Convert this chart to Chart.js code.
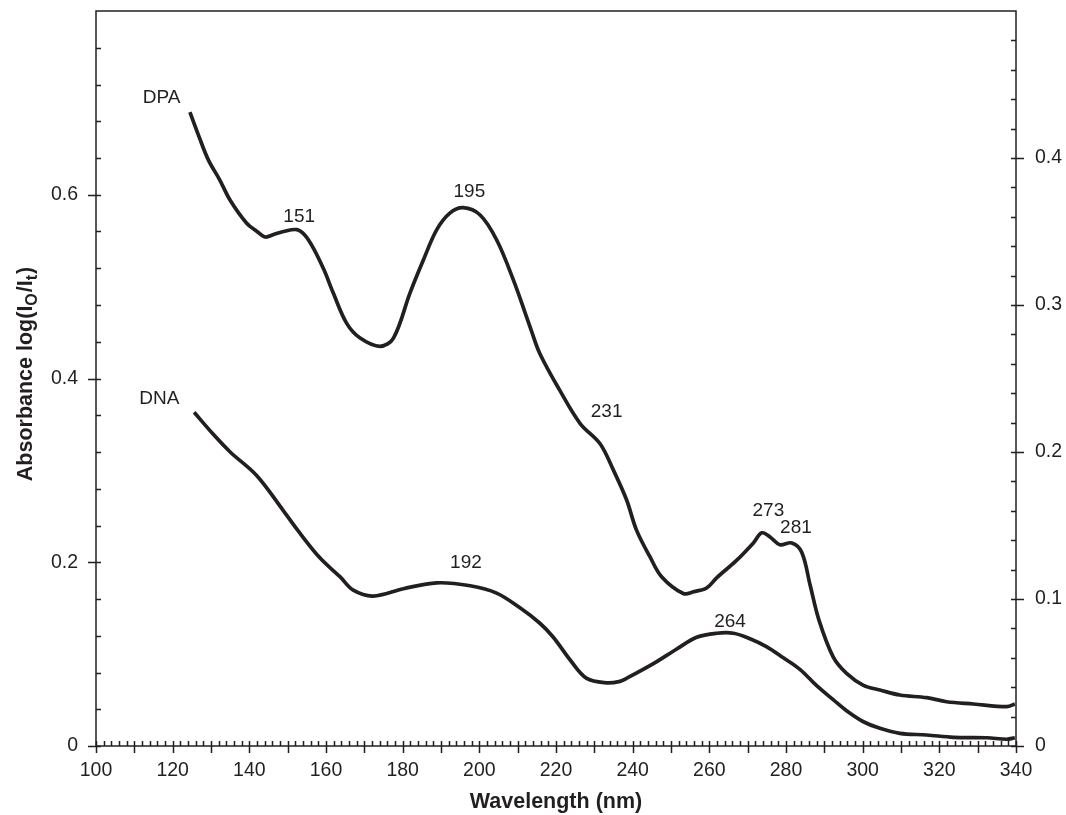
<!DOCTYPE html>
<html>
<head>
<meta charset="utf-8">
<script src="https://cdn.jsdelivr.net/npm/chart.js@4.4.1/dist/chart.umd.min.js"></script>
<style>
  body { margin: 0; background: #fff; }
  #wrap { width: 1066px; height: 815px; position: relative; }
</style>
</head>
<body>
<div id="wrap"><canvas id="spectrum"></canvas></div>
<script>
// -------------------------------- DATA --------------------------------//
// DPA spectrum, left axis
const dpaNm = [124.5, 126.9, 129.3, 132.3, 135, 139.3, 142, 144.1, 146.5, 148.9, 152.4, 154.5, 156.7, 159.5,
    161.9, 165.4, 168.9, 174.1, 177.6, 181.9, 185.4, 188.9, 192.3, 195.8, 200.2, 204.5, 208.9, 213.5,
    215.8, 221, 226.3, 231.5, 235, 238.4, 241, 244.5, 247.6, 253.2, 256, 259.3, 261.9, 267.1, 271.5,
    273.7, 276, 278.4, 281.5, 284.1, 286.3, 288.6, 292.3, 295.8, 300.2, 304.5, 309.7, 316.7, 321.9,
    328.9, 337.6, 339.7];
const dpaAbs = [0.690, 0.663, 0.638, 0.616, 0.594, 0.569, 0.560, 0.554, 0.557, 0.560, 0.562, 0.556, 0.542, 0.518,
    0.493, 0.460, 0.444, 0.435, 0.444, 0.493, 0.529, 0.562, 0.580, 0.586, 0.578, 0.551, 0.507, 0.453,
    0.427, 0.387, 0.351, 0.329, 0.300, 0.268, 0.235, 0.206, 0.184, 0.166, 0.168, 0.172, 0.183, 0.202, 0.221,
    0.232, 0.227, 0.219, 0.221, 0.211, 0.175, 0.137, 0.097, 0.079, 0.066, 0.061, 0.0555, 0.0526, 0.0482,
    0.0457, 0.0428, 0.0457];

// DNA spectrum, right axis
const dnaNm = [125.6, 130.6, 135, 141.9, 148.9, 152.4, 158.4, 163.7, 167.1, 172.3, 180.2, 188.9, 197.6, 204.5,
    210.6, 215.8, 219.3, 223.7, 228, 233.2, 236.7, 238.4, 245.4, 251.5, 256.7, 261.9, 266.3, 270.6, 275,
    279.3, 283.7, 288, 292.3, 295.8, 300.2, 304.5, 309.7, 316.7, 323.7, 332.4, 337.6, 339.7];
const dnaAbs = [0.227, 0.212, 0.200, 0.184, 0.160, 0.1475, 0.128, 0.115, 0.106, 0.102, 0.107, 0.111, 0.109, 0.104,
    0.094, 0.0835, 0.074, 0.0585, 0.046, 0.043, 0.044, 0.046, 0.056, 0.066, 0.074, 0.0767, 0.0767, 0.073, 0.0675,
    0.060, 0.052, 0.041, 0.0315, 0.024, 0.0165, 0.012, 0.0086, 0.0075, 0.0059, 0.0056, 0.0046, 0.0056];

// peak labels (wavelength, left-axis value)
const noteText = ['DPA', 'DNA', '151', '195', '231', '273', '281', '192', '264'];
const noteNm   = [117.1, 116.5, 153.0, 197.4, 233.2, 275.4, 282.6, 196.5, 265.4];
const noteAbs  = [0.706, 0.378, 0.5755, 0.603, 0.364, 0.2558, 0.2376, 0.1989, 0.1353];

const INK = '#231f20';
const FONT = '"Liberation Sans", Arial, sans-serif';

// -------------------------------- FRAME, TICKS, TITLE, LABELS --------------------------------//
const decorations = {
    id: 'decorations',
    afterDraw(chart) {
        const ctx = chart.ctx;
        const { left, right, top, bottom } = chart.chartArea;
        const x = chart.scales.x, y = chart.scales.y, y1 = chart.scales.y1;

        ctx.save();
        ctx.strokeStyle = INK;
        ctx.lineWidth = 1.5;
        ctx.strokeRect(left, top, right - left, bottom - top);

        ctx.beginPath();
        // x: minor every 2 nm pointing in, every 10 nm crossing the axis
        for (let nm = 100; nm <= 340; nm += 2) {
            const px = Math.round(x.getPixelForValue(nm)) + 0.5;
            const major = nm % 10 === 0;
            ctx.moveTo(px, bottom - 5);
            ctx.lineTo(px, major ? bottom + 7 : bottom);
        }
        // left axis: every 0.04, labelled ones cross (not the top corner)
        for (let i = 0; i < 20; i++) {
            const py = Math.round(y.getPixelForValue(i * 0.04)) + 0.5;
            const major = i % 5 === 0;
            ctx.moveTo(left + 5, py);
            ctx.lineTo(major ? left - 8 : left, py);
        }
        // right axis: every 0.02
        for (let i = 0; i < 25; i++) {
            const py = Math.round(y1.getPixelForValue(i * 0.02)) + 0.5;
            const major = i % 5 === 0;
            ctx.moveTo(right - 5, py);
            ctx.lineTo(major ? right + 8 : right, py);
        }
        ctx.stroke();

        // peak / curve labels
        ctx.fillStyle = INK;
        ctx.font = '19px ' + FONT;
        ctx.textAlign = 'center';
        ctx.textBaseline = 'middle';
        noteText.forEach((t, i) => {
            ctx.fillText(t, x.getPixelForValue(noteNm[i]), y.getPixelForValue(noteAbs[i]));
        });

        // y title with subscripts, rotated
        const parts = [
            { t: 'Absorbance log(I', sub: false },
            { t: 'O', sub: true },
            { t: '/I', sub: false },
            { t: 't', sub: true },
            { t: ')', sub: false }
        ];
        const big = 'bold 21.5px ' + FONT, small = 'bold 16px ' + FONT;
        let total = 0;
        parts.forEach(p => { ctx.font = p.sub ? small : big; p.w = ctx.measureText(p.t).width + (p.sub ? 1 : 0); total += p.w; });
        ctx.translate(32, 374);
        ctx.rotate(-Math.PI / 2);
        ctx.textAlign = 'left';
        ctx.textBaseline = 'alphabetic';
        let cx = -total / 2;
        parts.forEach(p => {
            ctx.font = p.sub ? small : big;
            ctx.fillText(p.t, cx, p.sub ? 5 : 0);
            cx += p.w;
        });
        ctx.restore();
    }
};

// -------------------------------- CHART --------------------------------//
const ctx = document.getElementById('spectrum').getContext('2d');
const tickFont = { family: FONT, size: 19.5 };

// fixed axis boxes so the plot frame lands where the figure has it
function fixWidth(w) {
    return s => { s.width = w; s.paddingTop = 0; s.paddingBottom = 0; };
}

new Chart(ctx, {
    type: 'line',
    data: {
        datasets: [
            {
                label: 'DPA',
                data: dpaNm.map((nm, i) => ({ x: nm, y: dpaAbs[i] })),
                yAxisID: 'y',
                borderColor: INK,
                borderWidth: 3.7,
                pointRadius: 0,
                tension: 0.35,
                fill: false
            },
            {
                label: 'DNA',
                data: dnaNm.map((nm, i) => ({ x: nm, y: dnaAbs[i] })),
                yAxisID: 'y1',
                borderColor: INK,
                borderWidth: 3.7,
                pointRadius: 0,
                tension: 0.35,
                fill: false
            }
        ]
    },
    options: {
        responsive: true,
        maintainAspectRatio: false,
        animation: false,
        layout: { padding: { top: 11, left: 0, right: 0, bottom: 0 } },
        plugins: {
            legend: { display: false },
            tooltip: { enabled: false }
        },
        scales: {
            x: {
                type: 'linear',
                min: 100,
                max: 340,
                afterFit: s => { s.height = 69; s.paddingLeft = 0; s.paddingRight = 0; },
                grid: { display: false, drawTicks: false },
                border: { display: false },
                ticks: { stepSize: 20, padding: 13, color: INK, font: tickFont, maxRotation: 0 },
                title: {
                    display: true,
                    text: 'Wavelength (nm)',
                    color: INK,
                    font: { family: FONT, size: 21.5, weight: 'bold' },
                    padding: { top: 0, bottom: 0 }
                }
            },
            y: {
                position: 'left',
                min: 0,
                max: 0.8,
                afterFit: fixWidth(96),
                grid: { display: false, drawTicks: false },
                border: { display: false },
                ticks: {
                    stepSize: 0.2,
                    padding: 18,
                    color: INK,
                    font: tickFont,
                    callback: v => (v > 0.7 ? '' : (v === 0 ? '0' : v.toFixed(1)))
                }
            },
            y1: {
                position: 'right',
                min: 0,
                max: 0.5,
                afterFit: fixWidth(50),
                grid: { display: false, drawTicks: false },
                border: { display: false },
                ticks: {
                    stepSize: 0.1,
                    padding: 19,
                    color: INK,
                    font: tickFont,
                    callback: v => (v > 0.45 ? '' : (v === 0 ? '0' : v.toFixed(1)))
                }
            }
        }
    },
    plugins: [decorations]
});
</script>
</body>
</html>
